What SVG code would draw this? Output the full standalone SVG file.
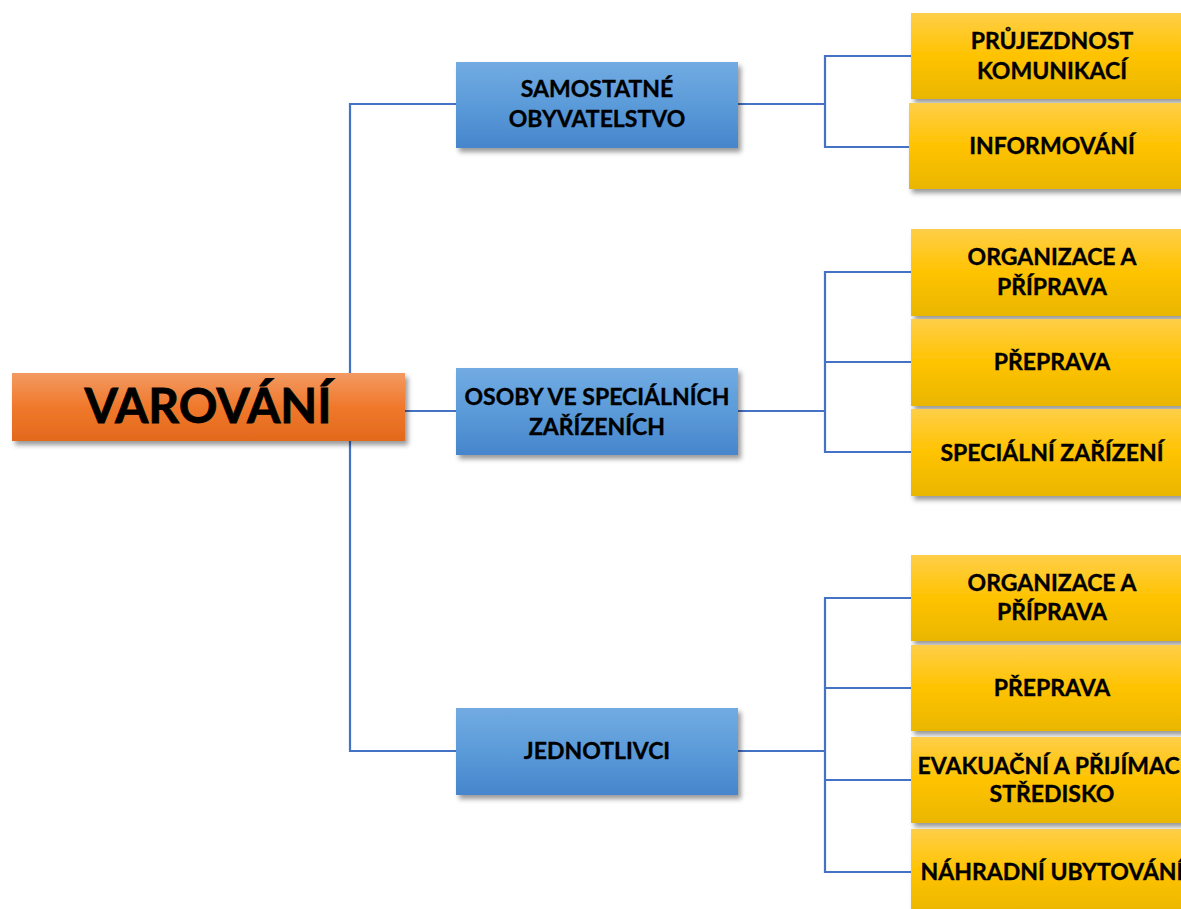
<svg xmlns="http://www.w3.org/2000/svg" width="1181" height="909" viewBox="0 0 1181 909">
<defs>
<linearGradient id="gOrange" x1="0" y1="0" x2="0" y2="1">
<stop offset="0" stop-color="#F39A62"/><stop offset="0.5" stop-color="#F0782C"/><stop offset="1" stop-color="#E2691C"/>
</linearGradient>
<linearGradient id="gBlue" x1="0" y1="0" x2="0" y2="1">
<stop offset="0" stop-color="#72ABE2"/><stop offset="0.5" stop-color="#5B9BD9"/><stop offset="1" stop-color="#4685CC"/>
</linearGradient>
<linearGradient id="gYellow" x1="0" y1="0" x2="0" y2="1">
<stop offset="0" stop-color="#FFCE48"/><stop offset="0.5" stop-color="#FFC300"/><stop offset="1" stop-color="#E9B600"/>
</linearGradient>
<filter id="sh" x="-10%" y="-20%" width="125%" height="150%">
<feDropShadow dx="3" dy="4" stdDeviation="2.5" flood-color="#000" flood-opacity="0.4"/>
</filter>
</defs>
<style>
.root{fill:url(#gOrange);filter:url(#sh)}
.mid{fill:url(#gBlue);filter:url(#sh)}
.leaf{fill:url(#gYellow);filter:url(#sh)}
text{font-family:Lato,"Open Sans","Liberation Sans",sans-serif;font-weight:bold;fill:#000;stroke:#000;stroke-width:0.35;text-anchor:middle}
.t{font-size:23px}
.tr{font-size:48px;stroke-width:0.8}
.c{fill:none;stroke:#4472C4;stroke-width:2.2}
</style>
<g id="connectors">
<path class="c" d="M456,104 H350 V751 H456"/>
<path class="c" d="M405,411 H456"/>
<path class="c" d="M738,104 H825 M911,56 H825 V147 H911"/>
<path class="c" d="M738,411 H825 M911,272 H825 V452 H911 M825,362 H911"/>
<path class="c" d="M738,751 H825 M911,598 H825 V872 H911 M825,688 H911 M825,780 H911"/>
</g>
<g id="root"><rect class="root" x="12" y="373" width="393" height="68"/><text class="tr" x="208" y="423">VAROVÁNÍ</text></g>
<g id="n1"><rect class="mid" x="456" y="62" width="282" height="86"/><text class="t" x="597" y="97">SAMOSTATNÉ</text><text class="t" x="597" y="127">OBYVATELSTVO</text></g>
<g id="n2"><rect class="mid" x="456" y="368" width="282" height="87"/><text class="t" x="597" y="405">OSOBY VE SPECIÁLNÍCH</text><text class="t" x="597" y="435">ZAŘÍZENÍCH</text></g>
<g id="n3"><rect class="mid" x="456" y="708" width="282" height="87"/><text class="t" x="597" y="759">JEDNOTLIVCI</text></g>
<g id="l1"><rect class="leaf" x="911" y="13" width="282" height="86"/><text class="t" x="1052" y="49">PRŮJEZDNOST</text><text class="t" x="1052" y="79">KOMUNIKACÍ</text></g>
<g id="l2"><rect class="leaf" x="909" y="103" width="284" height="86"/><text class="t" x="1052" y="154">INFORMOVÁNÍ</text></g>
<g id="l3"><rect class="leaf" x="911" y="229" width="282" height="87"/><text class="t" x="1052" y="265">ORGANIZACE A</text><text class="t" x="1052" y="295">PŘÍPRAVA</text></g>
<g id="l4"><rect class="leaf" x="911" y="319" width="282" height="87"/><text class="t" x="1052" y="370">PŘEPRAVA</text></g>
<g id="l5"><rect class="leaf" x="911" y="409" width="282" height="87"/><text class="t" x="1052" y="461">SPECIÁLNÍ ZAŘÍZENÍ</text></g>
<g id="l6"><rect class="leaf" x="911" y="555" width="282" height="86"/><text class="t" x="1052" y="591">ORGANIZACE A</text><text class="t" x="1052" y="620">PŘÍPRAVA</text></g>
<g id="l7"><rect class="leaf" x="911" y="645" width="282" height="86"/><text class="t" x="1052" y="696">PŘEPRAVA</text></g>
<g id="l8"><rect class="leaf" x="911" y="737" width="282" height="86"/><text class="t" x="1052" y="774">EVAKUAČNÍ A PŘIJÍMACÍ</text><text class="t" x="1052" y="802">STŘEDISKO</text></g>
<g id="l9"><rect class="leaf" x="911" y="829" width="282" height="86"/><text class="t" x="1052" y="880">NÁHRADNÍ UBYTOVÁNÍ</text></g>
</svg>
